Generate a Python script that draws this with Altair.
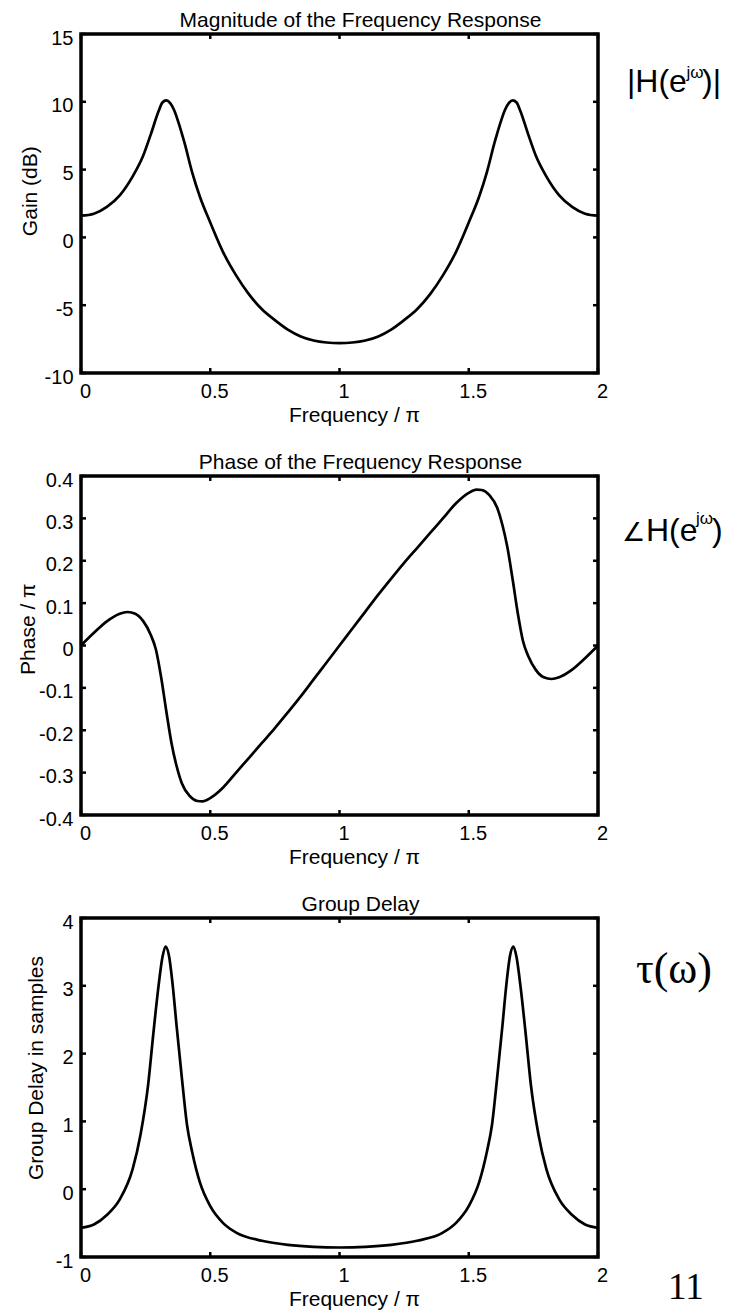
import altair as alt
import pandas as pd

# ---------------- data ----------------
mag_freq = [0, 0.05, 0.1, 0.15, 0.2, 0.24, 0.27, 0.3, 0.315, 0.33, 0.345, 0.36, 0.38, 0.4,
            0.43, 0.46, 0.5, 0.55, 0.6, 0.65, 0.7, 0.75, 0.8, 0.85, 0.9, 0.95, 1.0,
            1.05, 1.1, 1.15, 1.2, 1.25, 1.3, 1.35, 1.4, 1.45, 1.5, 1.54, 1.57, 1.6, 1.62,
            1.64, 1.655, 1.67, 1.685, 1.7, 1.73, 1.76, 1.8, 1.85, 1.9, 1.95, 2.0]
mag_gain_db = [1.6, 1.75, 2.25, 3.1, 4.5, 6.0, 7.6, 9.3, 9.95, 10.1, 9.9, 9.4, 8.3, 7.0,
               4.8, 3.0, 1.1, -1.1, -2.8, -4.2, -5.3, -6.1, -6.8, -7.3, -7.6, -7.75, -7.8,
               -7.75, -7.6, -7.3, -6.8, -6.1, -5.3, -4.2, -2.8, -1.1, 1.1, 3.0, 4.8, 7.0, 8.3,
               9.4, 9.9, 10.1, 9.95, 9.3, 7.6, 6.0, 4.5, 3.1, 2.25, 1.75, 1.6]

phase_freq = [0, 0.05, 0.1, 0.15, 0.18, 0.21, 0.24, 0.27, 0.29, 0.31, 0.33, 0.35, 0.37, 0.39,
              0.42, 0.45, 0.47, 0.5, 0.55, 0.6, 0.65, 0.7, 0.75, 0.8, 0.85, 0.9, 0.95, 1.0,
              1.05, 1.1, 1.15, 1.2, 1.25, 1.3, 1.35, 1.4, 1.45, 1.5, 1.53, 1.55, 1.58, 1.61,
              1.63, 1.65, 1.67, 1.69, 1.71, 1.73, 1.76, 1.79, 1.82, 1.85, 1.9, 1.95, 2.0]
phase_over_pi = [0.0, 0.03, 0.057, 0.075, 0.079, 0.075, 0.058, 0.025, -0.01, -0.075, -0.155,
                 -0.23, -0.285, -0.325, -0.355, -0.367, -0.368, -0.36, -0.335, -0.3, -0.265,
                 -0.23, -0.195, -0.158, -0.12, -0.08, -0.04, 0.0,
                 0.04, 0.08, 0.12, 0.158, 0.195, 0.23, 0.265, 0.3, 0.335, 0.36, 0.368, 0.367,
                 0.355, 0.325, 0.285, 0.23, 0.155, 0.075, 0.01, -0.025, -0.058, -0.075, -0.079,
                 -0.075, -0.057, -0.03, 0.0]

gd_freq = [0, 0.05, 0.1, 0.15, 0.2, 0.23, 0.26, 0.28, 0.3, 0.315, 0.327, 0.34, 0.355, 0.37,
           0.39, 0.41, 0.43, 0.46, 0.5, 0.55, 0.6, 0.7, 0.8, 0.9, 1.0,
           1.1, 1.2, 1.3, 1.4, 1.45, 1.5, 1.54, 1.57, 1.59, 1.61, 1.63, 1.645, 1.66, 1.673,
           1.685, 1.7, 1.72, 1.74, 1.77, 1.8, 1.85, 1.9, 1.95, 2.0]
gd_samples = [-0.57, -0.52, -0.38, -0.15, 0.3, 0.8, 1.55, 2.3, 3.0, 3.42, 3.58, 3.45, 3.0, 2.4,
              1.65, 0.95, 0.55, 0.1, -0.25, -0.5, -0.64, -0.76, -0.82, -0.85, -0.86,
              -0.85, -0.82, -0.76, -0.64, -0.5, -0.25, 0.1, 0.55, 0.95, 1.65, 2.4, 3.0, 3.45,
              3.58, 3.42, 3.0, 2.3, 1.55, 0.8, 0.3, -0.15, -0.38, -0.52, -0.57]

x_ticks = [0, 0.5, 1, 1.5, 2]
mag_ticks = [-10, -5, 0, 5, 10, 15]
phase_ticks = [-0.4, -0.3, -0.2, -0.1, 0, 0.1, 0.2, 0.3, 0.4]
gd_ticks = [-1, 0, 1, 2, 3, 4]

titles = ["Magnitude of the Frequency Response", "Phase of the Frequency Response", "Group Delay"]
y_titles = ["Gain (dB)", "Phase / \u03c0", "Group Delay in samples"]
x_title = "Frequency / \u03c0"
mag_label_parts = ["|H(e", "j\u03c9", ")|"]
phase_label_parts = ["\u2220", "H(e", "j\u03c9", ")"]
gd_label = "\u03c4(\u03c9)"
page_number = "11"

# ---------------- layout / style ----------------
FONT = "Liberation Sans"
SERIF = "Liberation Serif"
W, H = 517, 339
TICK = 5
MINUS = "\u2212"
LABEL_EXPR = "replace(format(datum.value, '~g'), '" + MINUS + "', '-')"


def text_layer(txt, x, y, size, font=FONT):
    return alt.Chart(pd.DataFrame({"t": [txt]})).mark_text(
        align="left", baseline="alphabetic", font=font, fontSize=size, color="black"
    ).encode(x=alt.value(x), y=alt.value(y), text="t:N")


def panel(freq, vals, ydom, yticks, title, ytitle, ytx, yty, extras):
    df = pd.DataFrame({"f": freq, "v": vals})
    xs = alt.Scale(domain=[0, 2], nice=False, zero=False)
    ys = alt.Scale(domain=ydom, nice=False, zero=False)
    common = dict(domain=False, grid=False, ticks=False, labelFont=FONT, labelFontSize=20,
                  labelColor="black", labelPadding=8, labelOffset=4, labelFlush=False,
                  labelExpr=LABEL_EXPR,
                  titleFont=FONT, titleFontSize=21, titleFontWeight="normal",
                  titleColor="black", titleBaseline="alphabetic")
    x_axis = alt.Axis(values=x_ticks, orient="bottom", title=x_title, titleX=273, titleY=48.7,
                      **common)
    y_axis = alt.Axis(values=yticks, orient="left", title=ytitle, titleX=ytx, titleY=yty,
                      **common)

    line = alt.Chart(df).mark_line(color="black", strokeWidth=2.7, interpolate="monotone").encode(
        x=alt.X("f:Q", scale=xs, axis=x_axis),
        y=alt.Y("v:Q", scale=ys, axis=y_axis),
    )
    xt = alt.Chart(pd.DataFrame({"f": x_ticks}))
    yt = alt.Chart(pd.DataFrame({"v": yticks}))
    rule = dict(color="black", strokeWidth=2.5)
    top_ticks = xt.mark_rule(**rule).encode(
        x=alt.X("f:Q", scale=xs, axis=x_axis), y=alt.value(0), y2=alt.value(TICK))
    bottom_ticks = xt.mark_rule(**rule).encode(
        x=alt.X("f:Q", scale=xs, axis=x_axis), y=alt.value(H - TICK), y2=alt.value(H))
    left_ticks = yt.mark_rule(**rule).encode(
        y=alt.Y("v:Q", scale=ys, axis=y_axis), x=alt.value(0), x2=alt.value(TICK))
    right_ticks = yt.mark_rule(**rule).encode(
        y=alt.Y("v:Q", scale=ys, axis=y_axis), x=alt.value(W - TICK), x2=alt.value(W))
    anchor = alt.Chart(pd.DataFrame({"t": ["."]})).mark_text(
        opacity=0, fontSize=2, align="left").encode(x=alt.value(-66), y=alt.value(H / 2), text="t:N")
    layers = [line, top_ticks, bottom_ticks, left_ticks, right_ticks, anchor] + extras
    return alt.layer(*layers).properties(
        width=W, height=H,
        title=alt.TitleParams(text=title, font=FONT, fontSize=21, fontWeight="normal",
                              color="black", frame="group", anchor="middle",
                              offset=-3, dx=21),
    )


mag_extras = [
    text_layer(mag_label_parts[0], 546, 58, 32),
    text_layer(mag_label_parts[1], 605.5, 44, 17),
    text_layer(mag_label_parts[2], 621, 58, 32),
]
phase_extras = [
    text_layer(phase_label_parts[0], 541, 64.7, 26),
    text_layer(phase_label_parts[1], 565, 64.7, 32),
    text_layer(phase_label_parts[2], 615, 47.7, 17),
    text_layer(phase_label_parts[3], 631, 64.7, 32),
]
gd_extras = [
    text_layer(gd_label, 555, 65, 44, SERIF),
    text_layer(page_number, 587, 381, 37, SERIF),
]

p1 = panel(mag_freq, mag_gain_db, [-10, 15], mag_ticks, titles[0], y_titles[0], -44.5, 156.7, mag_extras)
p2 = panel(phase_freq, phase_over_pi, [-0.4, 0.4], phase_ticks, titles[1], y_titles[1], -46.5, 152.7, phase_extras)
p3 = panel(gd_freq, gd_samples, [-1, 4], gd_ticks, titles[2], y_titles[2], -39, 149.5, gd_extras)

chart = alt.vconcat(p1, p2, p3, spacing=22).properties(
    padding={"left": 5, "top": 0, "right": 2, "bottom": 0},
    background="white",
).configure_view(stroke="black", strokeWidth=3.5)

chart.save("out.html", embed_options={"renderer": "svg", "actions": False})
